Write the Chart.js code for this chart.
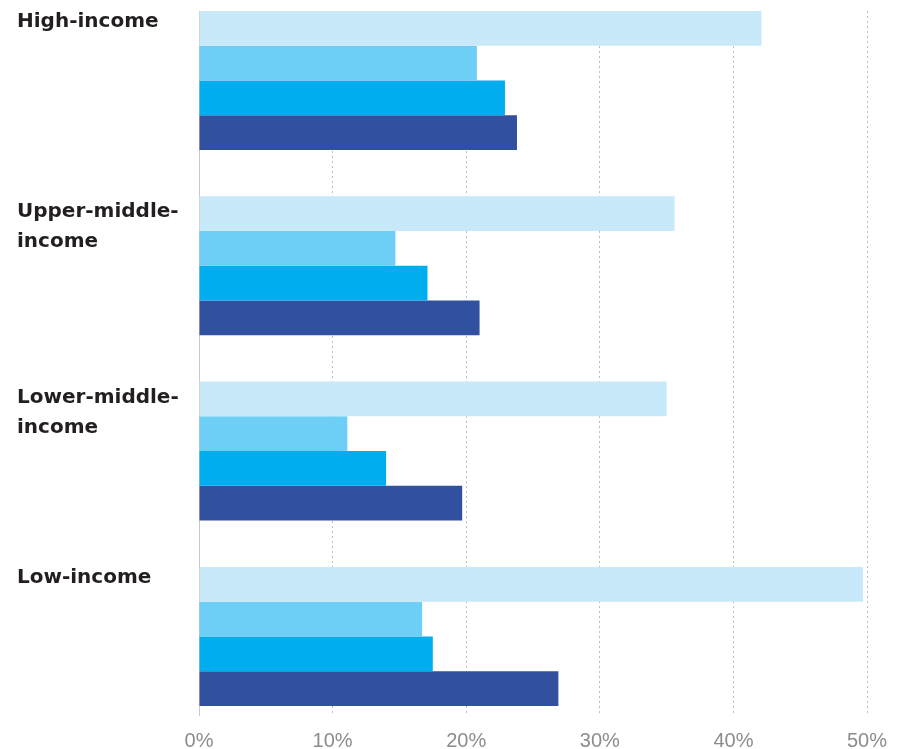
<!DOCTYPE html>
<html>
<head>
<meta charset="utf-8">
<script src="https://cdn.jsdelivr.net/npm/chart.js@4"></script>
<style>
  html, body { margin: 0; padding: 0; background: #fff; }
  #wrap { width: 911px; height: 749px; position: relative; }
</style>
</head>
<body>
<div id="wrap"><canvas id="chart"></canvas></div>
<script>
// income groups, one label line per entry
const categories = [
  ["High-income"],
  ["Upper-middle-", "income"],
  ["Lower-middle-", "income"],
  ["Low-income"]
];

// four series, top bar to bottom bar in each group (percent)
const seriesA = [42.1, 35.6, 35.0, 49.7];
const seriesB = [20.8, 14.7, 11.1, 16.7];
const seriesC = [22.9, 17.1, 14.0, 17.5];
const seriesD = [23.8, 21.0, 19.7, 26.9];

const seriesNames = ["Series 1", "Series 2", "Series 3", "Series 4"];
const seriesColors = ["#c7e9f9", "#6dcff6", "#00aeef", "#3250a0"];

const xTicks = [0, 10, 20, 30, 40, 50];

// turn a value list into {x, y} points on the numeric index axis
const toPoints = (vals) => vals.map((v, i) => ({ x: v, y: i }));

// draws the bold group labels at the top-left of every group
const groupLabels = {
  id: "groupLabels",
  afterDraw(chart) {
    const ctx = chart.ctx;
    const yScale = chart.scales.y;
    const step = Math.abs(yScale.getPixelForValue(1) - yScale.getPixelForValue(0));
    const half = step * 0.75 / 2;
    ctx.save();
    ctx.fillStyle = "#231f20";
    ctx.font = "bold 20px 'DejaVu Sans', sans-serif";
    ctx.textAlign = "left";
    ctx.textBaseline = "alphabetic";
    categories.forEach((lines, i) => {
      const top = yScale.getPixelForValue(i) - half;
      const first = lines.length > 1 ? 21 : 16;
      lines.forEach((line, j) => {
        ctx.fillText(line, 17, top + first + j * 30);
      });
    });
    ctx.restore();
  }
};

const allSeries = [seriesA, seriesB, seriesC, seriesD];

new Chart(document.getElementById("chart"), {
  type: "bar",
  plugins: [groupLabels],
  data: {
    datasets: allSeries.map((vals, k) => ({
      label: seriesNames[k],
      data: toPoints(vals),
      backgroundColor: seriesColors[k],
      borderWidth: 0,
      categoryPercentage: 0.75,
      barPercentage: 1
    }))
  },
  options: {
    indexAxis: "y",
    responsive: true,
    maintainAspectRatio: false,
    animation: false,
    layout: { padding: { left: 199, right: 44, top: 11, bottom: 0 } },
    plugins: {
      legend: { display: false },
      tooltip: { enabled: false }
    },
    scales: {
      x: {
        type: "linear",
        min: 0,
        max: 50,
        afterBuildTicks: (scale) => {
          scale.ticks = xTicks.map((v) => ({ value: v }));
        },
        afterFit: (scale) => {
          scale.height = 34;
        },
        grid: {
          color: "#bdbdbd",
          lineWidth: 1,
          drawTicks: false
        },
        border: { display: false, dash: [2, 3] },
        ticks: {
          padding: 14,
          color: "#8c8c8c",
          font: { family: "'Liberation Sans', Arial, sans-serif", size: 20 },
          callback: (v) => v + "%"
        }
      },
      y: {
        type: "linear",
        reverse: true,
        offset: false,
        min: -0.375,
        max: 3.424,
        afterBuildTicks: (scale) => {
          scale.ticks = categories.map((_, i) => ({ value: i }));
        },
        grid: { display: false, drawTicks: false },
        border: { display: true, color: "#c8c8c8", width: 1 },
        ticks: { display: false }
      }
    }
  }
});
</script>
</body>
</html>
